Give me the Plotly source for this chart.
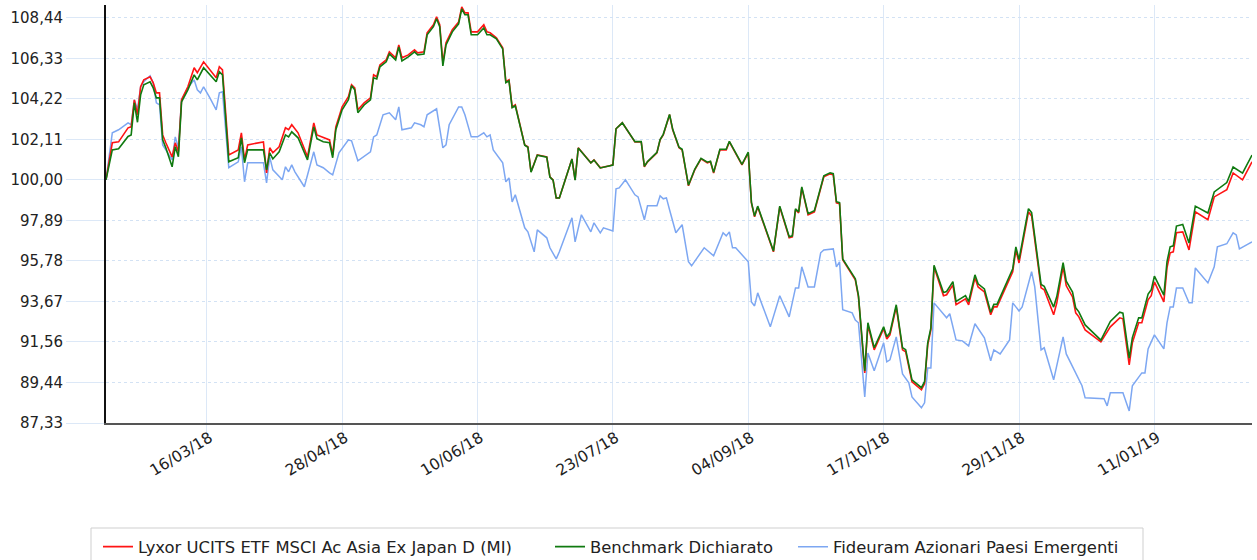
import pandas as pd
import plotly.graph_objects as go

start_date = "2018-02-12"

# day offsets from start_date (red & green series share them)
days_main = [0,2,4,7,8,9,10,11,12,14,15,16,17,18,19,21,22,23,24,26,28,29,31,33,35,36,37,39,42,43,44,45,48,50,51,52,53,55,57,58,59,61,64,66,67,69,71,72,73,75,77,78,79,80,82,84,85,86,87,89,90,92,93,94,96,98,99,101,102,104,105,106,107,108,110,112,113,114,115,116,118,120,121,122,124,126,127,128,129,130,133,134,135,137,140,141,142,143,144,148,149,150,154,155,157,160,161,162,164,168,170,171,172,175,176,177,179,180,182,183,185,187,189,191,192,193,195,197,198,202,204,205,206,207,212,214,217,218,219,220,221,223,225,228,230,231,232,233,234,238,239,241,242,244,247,248,249,251,253,254,256,259,260,261,262,263,266,267,269,270,273,274,276,277,279,281,282,283,288,289,290,293,294,297,298,301,302,304,305,307,308,309,311,316,319,322,323,325,326,328,329,331,332,333,336,337,338,339,340,342,344,346,350,352,356,358,361,364]

lyxor = [100.00,101.93,101.98,102.71,102.76,104.17,103.39,104.85,105.21,105.37,105.05,104.53,104.53,102.34,101.93,101.20,101.93,101.46,104.17,104.85,105.84,105.58,106.15,105.73,105.32,105.89,105.73,101.30,101.56,102.45,101.04,101.82,101.93,101.98,100.36,101.67,101.41,101.72,102.71,102.61,102.87,102.45,101.20,102.97,102.34,102.19,102.08,101.30,102.76,103.80,104.33,104.95,104.79,103.65,104.01,104.27,105.47,105.37,105.99,106.25,106.67,106.36,107.03,106.36,106.51,106.77,106.62,106.67,107.66,108.08,108.49,108.08,106.10,107.14,107.82,108.23,109.01,108.70,108.70,107.71,107.71,108.08,107.71,107.66,107.40,106.88,105.11,105.21,103.80,103.91,101.82,101.72,100.42,101.30,101.20,100.16,100.00,99.06,99.06,101.09,100.00,101.67,100.89,101.04,100.63,100.73,100.78,102.66,102.97,101.98,101.98,100.68,100.94,101.41,102.08,102.34,103.39,102.61,101.67,101.56,99.69,100.52,101.09,100.89,100.94,100.36,101.56,101.56,101.98,100.78,101.41,98.80,98.07,98.59,96.25,98.59,96.98,97.03,98.44,98.28,99.58,98.18,98.33,100.16,100.31,100.26,98.80,98.75,95.83,94.79,93.90,89.94,92.44,91.14,92.24,91.71,91.92,93.38,91.14,91.04,89.47,89.06,89.37,91.40,92.18,95.47,93.96,94.01,94.53,93.49,93.80,93.49,94.89,94.42,94.16,92.97,93.38,93.38,95.21,96.35,95.67,98.33,98.12,94.37,94.27,92.97,93.59,95.47,94.48,93.90,93.07,92.86,92.18,91.56,92.34,92.81,92.76,90.36,91.51,92.55,92.55,93.75,93.96,94.68,93.64,95.41,96.20,96.25,97.24,97.29,96.35,98.33,97.92,99.11,99.48,100.36,100.00,100.94]

benchmark = [100.00,101.56,101.62,102.26,102.34,104.01,103.00,104.43,104.95,105.11,104.79,104.27,104.27,102.08,101.67,100.68,101.72,101.20,104.06,104.69,105.47,105.21,105.84,105.47,105.11,105.63,105.47,100.94,101.15,102.19,100.89,101.56,101.56,101.56,100.52,101.41,101.09,101.46,102.34,102.24,102.50,102.19,101.04,102.76,102.14,101.98,101.93,101.15,102.61,103.65,104.17,104.90,104.69,103.50,103.90,104.17,105.32,105.26,105.89,106.15,106.56,106.25,106.93,106.20,106.41,106.67,106.51,106.56,107.56,107.98,108.39,107.98,105.94,107.03,107.71,108.13,108.91,108.60,108.60,107.56,107.56,107.92,107.56,107.56,107.35,106.82,105.06,105.16,103.76,103.86,101.80,101.70,100.40,101.28,101.18,100.14,99.98,99.05,99.05,101.08,99.98,101.66,100.88,101.03,100.62,100.72,100.77,102.66,102.97,101.99,101.99,100.70,100.95,101.43,102.10,102.37,103.41,102.63,101.70,101.59,99.72,100.55,101.12,100.92,100.97,100.39,101.59,101.59,102.01,100.81,101.44,98.84,98.11,98.63,96.29,98.63,97.03,97.08,98.49,98.33,99.63,98.24,98.39,100.21,100.37,100.32,98.86,98.81,95.88,94.85,93.97,90.04,92.55,91.25,92.34,91.82,92.03,93.49,91.25,91.15,89.58,89.17,89.48,91.51,92.29,95.55,94.13,94.18,94.70,93.66,93.97,93.66,95.05,94.58,94.32,93.10,93.51,93.51,95.37,96.51,95.84,98.50,98.29,94.55,94.45,93.37,93.92,95.68,94.72,94.15,93.33,93.12,92.44,91.65,92.62,93.10,93.05,90.71,91.78,92.81,92.81,94.05,94.27,94.98,93.99,95.73,96.51,96.56,97.59,97.67,96.71,98.63,98.27,99.37,99.86,100.67,100.35,101.29]

days_fideuram = [0,2,4,7,8,9,10,11,12,14,15,16,17,18,19,21,22,23,24,26,28,29,30,31,33,35,36,37,39,42,43,44,45,50,51,52,53,56,57,58,59,60,63,66,67,69,71,72,74,77,78,80,84,85,86,88,90,92,93,94,97,98,100,101,102,105,107,108,109,112,113,114,116,118,120,121,122,123,126,127,128,129,130,133,134,136,137,140,141,143,144,148,149,151,154,155,157,158,161,162,163,165,168,169,171,172,175,176,177,178,179,181,183,185,186,190,193,196,197,198,199,200,204,205,206,207,211,214,217,219,220,221,223,225,227,228,231,232,233,234,237,238,239,241,242,244,247,248,249,251,253,255,256,259,260,261,262,263,267,268,270,272,274,276,279,281,282,284,287,288,290,291,294,295,297,298,301,304,305,307,309,310,311,317,318,319,323,325,326,329,330,331,333,336,337,338,339,340,342,344,345,346,350,352,353,356,358,359,360,364]

fideuram = [100.00,102.45,102.61,102.97,102.87,104.17,103.65,104.85,105.11,105.42,105.05,104.01,103.91,101.82,101.56,101.04,102.24,101.67,104.17,104.79,105.21,104.69,104.53,104.85,104.27,103.65,104.53,104.59,100.63,100.94,101.72,99.90,100.89,100.89,99.84,101.20,100.52,100.00,100.68,100.42,100.78,100.42,99.64,101.46,100.78,100.63,100.36,100.26,101.41,102.08,102.03,100.99,101.46,102.24,102.34,103.39,103.49,103.13,103.80,102.61,102.71,102.97,102.87,102.76,103.39,103.70,101.67,101.82,102.87,103.80,103.80,103.39,102.24,102.24,102.45,102.24,102.34,101.56,100.89,99.90,100.10,98.85,99.22,97.50,97.29,96.25,97.39,96.98,96.46,95.88,96.25,98.02,96.77,98.18,97.29,97.76,97.24,97.50,97.34,99.53,99.58,100.00,99.22,99.11,97.92,98.65,98.65,99.17,99.01,99.06,98.44,97.24,97.66,95.73,95.52,96.46,96.04,97.24,97.08,97.29,96.46,96.46,95.73,93.64,93.43,94.11,92.34,93.96,92.86,94.37,94.37,95.47,94.42,94.42,96.20,96.35,96.40,95.47,95.73,93.23,93.07,92.70,92.55,88.69,90.98,90.05,91.51,90.52,90.62,91.82,89.89,89.42,88.69,88.12,88.38,90.20,90.20,93.59,92.81,93.02,91.66,91.61,91.35,92.50,91.77,90.57,91.14,90.93,91.66,93.59,93.17,93.38,95.21,94.42,91.14,91.25,89.58,91.82,90.93,90.26,89.58,89.27,88.64,88.59,88.22,88.90,88.90,87.96,89.27,89.94,89.94,91.19,91.92,91.19,92.55,93.38,93.38,94.37,94.37,93.59,93.59,95.41,94.63,95.47,96.51,96.67,97.24,97.13,96.40,96.77]

tick_dates = ["2018-03-16","2018-04-28","2018-06-10","2018-07-23","2018-09-04","2018-10-17","2018-11-29","2019-01-11"]
tick_date_labels = ["16/03/18","28/04/18","10/06/18","23/07/18","04/09/18","17/10/18","29/11/18","11/01/19"]
y_ticks = [87.33,89.44,91.56,93.67,95.78,97.89,100.00,102.11,104.22,106.33,108.44]
y_tick_labels = ["87,33","89,44","91,56","93,67","95,78","97,89","100,00","102,11","104,22","106,33","108,44"]

names = ["Lyxor UCITS ETF MSCI Ac Asia Ex Japan D (MI)", "Benchmark Dichiarato", "Fideuram Azionari Paesi Emergenti"]

t0 = pd.Timestamp(start_date)
dates_main = [t0 + pd.Timedelta(days=d) for d in days_main]
dates_fid = [t0 + pd.Timedelta(days=d) for d in days_fideuram]

W, H = 1257, 560
L, R, T, B = 106, 5, 5, 137
pw, ph = W - L - R, H - T - B

def px(x):
    return (x - L) / pw

def py(y):
    return (H - B - y) / ph

fig = go.Figure()
fig.add_trace(go.Scatter(x=dates_fid, y=fideuram, mode="lines", name=names[2],
                         line=dict(color="#7da7f2", width=1.5), legend="legend3"))
fig.add_trace(go.Scatter(x=dates_main, y=lyxor, mode="lines", name=names[0],
                         line=dict(color="#ff1414", width=1.6), legend="legend"))
fig.add_trace(go.Scatter(x=dates_main, y=benchmark, mode="lines", name=names[1],
                         line=dict(color="#107a10", width=1.6), legend="legend2"))

font = "DejaVu Sans, Verdana, sans-serif"
leg_y = 1 - 547 / H
leg_common = dict(orientation="h", yanchor="middle", xanchor="left", yref="container",
                  bgcolor="rgba(0,0,0,0)", borderwidth=0,
                  font=dict(family=font, size=16.4, color="#222"), itemwidth=30)

fig.update_layout(
    width=W, height=H,
    margin=dict(l=L, r=R, t=T, b=B),
    paper_bgcolor="white", plot_bgcolor="white",
    showlegend=True,
    legend=dict(x=px(98), y=leg_y, **leg_common),
    legend2=dict(x=px(550), y=leg_y, **leg_common),
    legend3=dict(x=px(793), y=leg_y, **leg_common),
    shapes=[dict(type="rect", xref="paper", yref="paper", x0=px(91), x1=px(1143), y0=py(528), y1=py(580),
                 line=dict(color="#cfcfcf", width=1), fillcolor="rgba(0,0,0,0)", layer="below")],
    xaxis=dict(type="date", range=[dates_main[0], dates_main[-1]],
               tickvals=tick_dates, ticktext=tick_date_labels, tickangle=-31,
               ticks="outside", ticklen=20, tickcolor="#dce8f7", tickwidth=1,
               ticklabelstandoff=-22, ticklabelshift=3,
               showgrid=True, gridcolor="#dce8f7", gridwidth=1,
               showline=True, linecolor="#555555", linewidth=2,
               tickfont=dict(family=font, size=15.5, color="#222"), zeroline=False),
    yaxis=dict(range=[87.33, 109.11], tickvals=y_ticks, ticktext=y_tick_labels,
               ticks="outside", ticklen=38, tickcolor="#dce8f7", tickwidth=1,
               showgrid=True, gridcolor="#d3e2f4", griddash="dot", gridwidth=1,
               showline=True, linecolor="#111111", linewidth=2,
               tickfont=dict(family=font, size=15, color="#222"), zeroline=False),
)

fig.write_html("out.html", config={"displayModeBar": False},
               post_script="document.body.style.margin='0';")
